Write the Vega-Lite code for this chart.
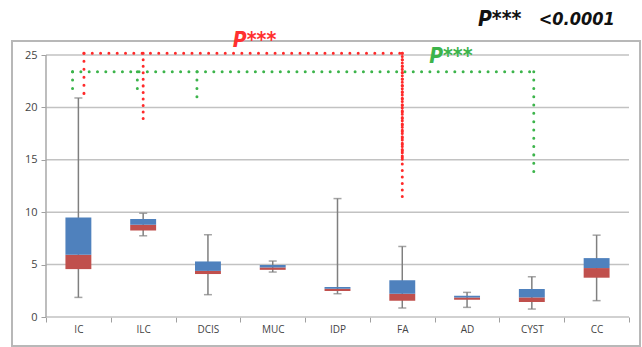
{
  "$schema": "https://vega.github.io/schema/vega-lite/v6.json",
  "width": 628,
  "height": 305,
  "autosize": {"type": "none"},
  "padding": {"left": 12, "top": 41, "right": 2, "bottom": 1},
  "background": "white",
  "config": {"view": {"stroke": "#b8b8b8", "strokeWidth": 2}, "font": "Open Sans"},
  "datasets": {
    "boxes": [
      {"cat": "IC", "min": 1.87, "q1": 4.57, "med": 5.94, "q3": 9.5, "max": 20.9},
      {"cat": "ILC", "min": 7.75, "q1": 8.26, "med": 8.8, "q3": 9.34, "max": 9.9},
      {"cat": "DCIS", "min": 2.13, "q1": 4.1, "med": 4.4, "q3": 5.3, "max": 7.85},
      {"cat": "MUC", "min": 4.29, "q1": 4.5, "med": 4.73, "q3": 4.96, "max": 5.34},
      {"cat": "IDP", "min": 2.22, "q1": 2.48, "med": 2.7, "q3": 2.86, "max": 11.3},
      {"cat": "FA", "min": 0.86, "q1": 1.56, "med": 2.22, "q3": 3.5, "max": 6.73},
      {"cat": "AD", "min": 0.92, "q1": 1.65, "med": 1.87, "q3": 2.03, "max": 2.35},
      {"cat": "CYST", "min": 0.76, "q1": 1.43, "med": 1.87, "q3": 2.67, "max": 3.84},
      {"cat": "CC", "min": 1.56, "q1": 3.75, "med": 4.67, "q3": 5.62, "max": 7.81}
    ],
    "grid": [
      {"g": 0, "from": "IC", "to": "CC"},
      {"g": 5, "from": "IC", "to": "CC"},
      {"g": 10, "from": "IC", "to": "CC"},
      {"g": 15, "from": "IC", "to": "CC"},
      {"g": 20, "from": "IC", "to": "CC"},
      {"g": 25, "from": "IC", "to": "CC"}
    ],
    "yline": [{"cat": "IC", "y": 0, "y2": 25}],
    "redH": [{"from": "IC", "to": "FA", "y": 25.16}],
    "redIC": [{"cat": "IC", "y": 25.16, "y2": 21.25}],
    "redV": [{"cat": "ILC", "y": 25.16, "y2": 18.7}, {"cat": "FA", "y": 25.16, "y2": 11.3}],
    "redDense": [{"cat": "FA", "y": 25.16, "y2": 15}],
    "greenH": [{"from": "IC", "to": "CYST", "y": 23.4}],
    "greenA": [{"cat": "IC", "y": 23.4, "y2": 21.4}, {"cat": "ILC", "y": 23.4, "y2": 21.4}],
    "greenD": [{"cat": "DCIS", "y": 23.4, "y2": 20.5}],
    "greenC": [{"cat": "CYST", "y": 23.4, "y2": 13.2}],
    "redText": [{"label": "P***", "cat": "MUC", "y": 26.34}],
    "greenText": [{"label": "P***", "cat": "AD", "y": 24.81}],
    "pText": [{"label": "P***", "cat": "AD", "y": 28.3}],
    "vText": [{"label": "<0.0001", "cat": "CC", "y": 28.3}]
  },
  "layer": [
    {
      "data": {"name": "grid"},
      "mark": {"type": "rule", "color": "#c2c2c2", "strokeWidth": 1.5},
      "encoding": {
        "x": {"field": "from", "type": "nominal", "bandPosition": 0,
          "scale": {"domain": ["IC", "ILC", "DCIS", "MUC", "IDP", "FA", "AD", "CYST", "CC"], "paddingInner": 0, "paddingOuter": 0.3473, "align": 0.7556},
          "axis": {"title": null, "offset": -29, "domain": false, "tickBand": "extent", "tickSize": 5, "tickColor": "#a0a0a0", "labelFontSize": 10, "labelColor": "#444444", "labelPadding": 2, "labelAngle": 0, "grid": false}},
        "x2": {"field": "to", "bandPosition": 1},
        "y": {"field": "g", "type": "quantitative",
          "scale": {"domain": [-2.767, 26.336], "nice": false, "zero": false},
          "axis": {"title": null, "offset": -34, "domain": false, "values": [0, 5, 10, 15, 20, 25], "tickSize": 5, "tickColor": "#a0a0a0", "labelFontSize": 11, "labelColor": "#444444", "labelPadding": 4, "grid": false}}
      }
    },
    {
      "data": {"name": "yline"},
      "mark": {"type": "rule", "color": "#a8a8a8", "strokeWidth": 1.5},
      "encoding": {
        "x": {"field": "cat", "type": "nominal", "bandPosition": 0},
        "y": {"field": "y", "type": "quantitative"},
        "y2": {"field": "y2"}
      }
    },
    {
      "data": {"name": "boxes"},
      "mark": {"type": "rule", "color": "#7f7f7f", "strokeWidth": 1.5},
      "encoding": {
        "x": {"field": "cat", "type": "nominal"},
        "y": {"field": "min", "type": "quantitative"},
        "y2": {"field": "max"}
      }
    },
    {
      "data": {"name": "boxes"},
      "mark": {"type": "tick", "color": "#7f7f7f", "thickness": 1.5, "size": 8},
      "encoding": {
        "x": {"field": "cat", "type": "nominal"},
        "y": {"field": "min", "type": "quantitative"}
      }
    },
    {
      "data": {"name": "boxes"},
      "mark": {"type": "tick", "color": "#7f7f7f", "thickness": 1.5, "size": 8},
      "encoding": {
        "x": {"field": "cat", "type": "nominal"},
        "y": {"field": "max", "type": "quantitative"}
      }
    },
    {
      "data": {"name": "boxes"},
      "mark": {"type": "bar", "color": "#c0504d", "width": {"band": 0.4}},
      "encoding": {
        "x": {"field": "cat", "type": "nominal"},
        "y": {"field": "q1", "type": "quantitative"},
        "y2": {"field": "med"}
      }
    },
    {
      "data": {"name": "boxes"},
      "mark": {"type": "bar", "color": "#4f81bd", "width": {"band": 0.4}},
      "encoding": {
        "x": {"field": "cat", "type": "nominal"},
        "y": {"field": "med", "type": "quantitative"},
        "y2": {"field": "q3"}
      }
    },
    {
      "data": {"name": "greenH"},
      "mark": {"type": "rule", "color": "#3cb44b", "strokeWidth": 3, "strokeCap": "round", "strokeDash": [0.01, 8.3]},
      "encoding": {
        "x": {"field": "from", "type": "nominal", "bandPosition": 0.41},
        "x2": {"field": "to", "bandPosition": 0.53},
        "y": {"field": "y", "type": "quantitative"}
      }
    },
    {
      "data": {"name": "greenA"},
      "mark": {"type": "rule", "color": "#3cb44b", "strokeWidth": 3, "strokeCap": "round", "strokeDash": [0.01, 8.3]},
      "encoding": {
        "x": {"field": "cat", "type": "nominal", "bandPosition": 0.41},
        "y": {"field": "y", "type": "quantitative"},
        "y2": {"field": "y2"}
      }
    },
    {
      "data": {"name": "greenD"},
      "mark": {"type": "rule", "color": "#3cb44b", "strokeWidth": 3, "strokeCap": "round", "strokeDash": [0.01, 8.3]},
      "encoding": {
        "x": {"field": "cat", "type": "nominal", "bandPosition": 0.33},
        "y": {"field": "y", "type": "quantitative"},
        "y2": {"field": "y2"}
      }
    },
    {
      "data": {"name": "greenC"},
      "mark": {"type": "rule", "color": "#3cb44b", "strokeWidth": 3, "strokeCap": "round", "strokeDash": [0.01, 8.3]},
      "encoding": {
        "x": {"field": "cat", "type": "nominal", "bandPosition": 0.53},
        "y": {"field": "y", "type": "quantitative"},
        "y2": {"field": "y2"}
      }
    },
    {
      "data": {"name": "redH"},
      "mark": {"type": "rule", "color": "#ff2a2a", "strokeWidth": 3, "strokeCap": "round", "strokeDash": [0.01, 8.3]},
      "encoding": {
        "x": {"field": "from", "type": "nominal", "bandPosition": 0.586},
        "x2": {"field": "to", "bandPosition": 0.5},
        "y": {"field": "y", "type": "quantitative"}
      }
    },
    {
      "data": {"name": "redIC"},
      "mark": {"type": "rule", "color": "#ff2a2a", "strokeWidth": 3, "strokeCap": "round", "strokeDash": [0.01, 8]},
      "encoding": {
        "x": {"field": "cat", "type": "nominal", "bandPosition": 0.586},
        "y": {"field": "y", "type": "quantitative"},
        "y2": {"field": "y2"}
      }
    },
    {
      "data": {"name": "redV"},
      "mark": {"type": "rule", "color": "#ff2a2a", "strokeWidth": 3, "strokeCap": "round", "strokeDash": [0.01, 6.5]},
      "encoding": {
        "x": {"field": "cat", "type": "nominal", "bandPosition": 0.5},
        "y": {"field": "y", "type": "quantitative"},
        "y2": {"field": "y2"}
      }
    },
    {
      "data": {"name": "redDense"},
      "mark": {"type": "rule", "color": "#ff2a2a", "strokeWidth": 3, "strokeCap": "round", "strokeDash": [0.01, 3.2]},
      "encoding": {
        "x": {"field": "cat", "type": "nominal", "bandPosition": 0.5},
        "y": {"field": "y", "type": "quantitative"},
        "y2": {"field": "y2"}
      }
    },
    {
      "data": {"name": "redText"},
      "mark": {"type": "text", "color": "#ff3030", "font": "DejaVu Sans Condensed, Liberation Sans, sans-serif", "fontSize": 21, "fontWeight": "bold", "fontStyle": "italic", "baseline": "middle", "align": "center"},
      "encoding": {
        "x": {"field": "cat", "type": "nominal", "bandPosition": 0.22},
        "y": {"field": "y", "type": "quantitative"},
        "text": {"field": "label"}
      }
    },
    {
      "data": {"name": "greenText"},
      "mark": {"type": "text", "color": "#3cb44b", "font": "DejaVu Sans Condensed, Liberation Sans, sans-serif", "fontSize": 21, "fontWeight": "bold", "fontStyle": "italic", "baseline": "middle", "align": "center"},
      "encoding": {
        "x": {"field": "cat", "type": "nominal", "bandPosition": 0.25},
        "y": {"field": "y", "type": "quantitative"},
        "text": {"field": "label"}
      }
    },
    {
      "data": {"name": "pText"},
      "mark": {"type": "text", "color": "#111111", "font": "DejaVu Sans Condensed, Liberation Sans, sans-serif", "fontSize": 21, "fontWeight": "bold", "fontStyle": "italic", "baseline": "middle", "align": "left"},
      "encoding": {
        "x": {"field": "cat", "type": "nominal", "bandPosition": 0.668},
        "y": {"field": "y", "type": "quantitative"},
        "text": {"field": "label"}
      }
    },
    {
      "data": {"name": "vText"},
      "mark": {"type": "text", "color": "#111111", "font": "DejaVu Sans Condensed, Liberation Sans, sans-serif", "fontSize": 18, "fontWeight": "bold", "fontStyle": "italic", "baseline": "middle", "align": "right"},
      "encoding": {
        "x": {"field": "cat", "type": "nominal", "bandPosition": 0.78},
        "y": {"field": "y", "type": "quantitative"},
        "text": {"field": "label"}
      }
    }
  ]
}
